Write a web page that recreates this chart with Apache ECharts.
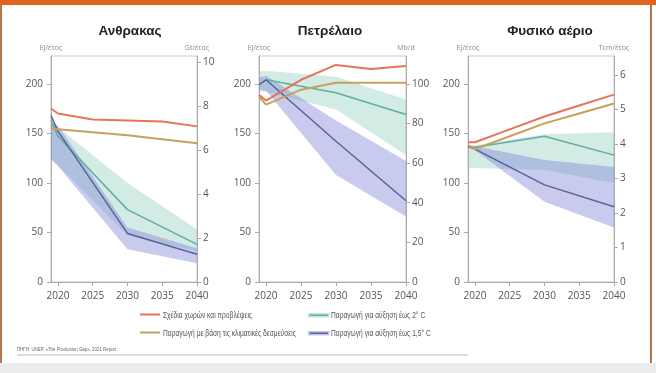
<!DOCTYPE html>
<html>
<head>
<meta charset="utf-8">
<script src="https://cdn.jsdelivr.net/npm/echarts@6/dist/echarts.min.js"></script>
<style>
html,body{margin:0;padding:0;background:#fff;}
#chart{width:656px;height:373px;}
</style>
</head>
<body>
<div id="chart"></div>
<script>
// ---------- DATA ----------
const panelTitles = ['Ανθρακας', 'Πετρέλαιο', 'Φυσικό αέριο'];
const leftUnits = ['EJ/έτος', 'EJ/έτος', 'EJ/έτος'];
const rightUnits = ['Gt/έτος', 'Mb/d', 'Tcm/έτος'];
const xTicks = [2020, 2025, 2030, 2035, 2040];
const leftTicks = [0, 50, 100, 150, 200];
const rightTicksCoal = [0, 2, 4, 6, 8, 10];
const rightTicksOil = [0, 20, 40, 60, 80, 100];
const rightTicksGas = [0, 1, 2, 3, 4, 5, 6];
const rightMax = [10.3, 114, 6.55];
const leftMax = 228;

const years = [2019, 2020, 2025, 2030, 2035, 2040];
const scenYears = [2019, 2020, 2030, 2040];

const seriesNames = [
  'Σχέδια χωρών και προβλέψεις',
  'Παραγωγή με βάση τις κλιματικές δεσμεύσεις',
  'Παραγωγή για αύξηση έως 2° C',
  'Παραγωγή για αύξηση έως 1,5° C'
];

// Coal (EJ/yr)
const coalPlans   = [175, 170, 164, 163, 162, 157];
const coalPledges = [155, 154, 151, 148, 144, 140];
const coal2C      = [163, 147, 73, 38];
const coal15C     = [168, 152, 49, 28];
const coal2CLow   = [122, 118, 47, 31];
const coal2CHigh  = [163, 156, 100, 53];
const coal15CLow  = [125, 117, 33, 19];
const coal15CHigh = [160, 158, 55, 34];

// Oil (EJ/yr)
const oilPlans   = [189, 183, 204, 219, 215, 218];
const oilPledges = [187, 179, 194, 201, 201, 201];
const oil2C      = [199, 204, 191, 169];
const oil15C     = [199, 204, 142, 82];
const oil2CLow   = [192, 192, 174, 128];
const oil2CHigh  = [212, 213, 207, 184];
const oil15CLow  = [194, 193, 108, 66];
const oil15CHigh = [206, 208, 163, 122];

// Gas (EJ/yr)
const gasPlans   = [141, 141, 154, 167, 178, 189];
const gasPledges = [138, 134, 147, 160, 170, 180];
const gas2C      = [136, 136, 147, 128];
const gas15C     = [137, 134, 98, 76];
const gas2CLow   = [115, 115, 113, 100];
const gas2CHigh  = [137, 138, 149, 151];
const gas15CLow  = [136, 133, 81, 55];
const gas15CHigh = [138, 137, 123, 116];

const sourceText = 'ΠΗΓΗ: UNEP, «The Production Gap», 2021 Report';

// ---------- STYLE ----------
const C = {
  red: '#e8735d', gold: '#c7a15a', teal: '#5fae9e', purple: '#5b6199',
  tealBand: 'rgba(120,195,175,0.33)', purpleBand: 'rgba(125,130,215,0.42)',
  tealLeg: '#c4e3dc', purpleLeg: '#c3c6ee',
  axis: '#aaa', label: '#555'
};
const FONT = 'Open Sans';
const grids = [
  {left: 51, top: 56, width: 146, height: 226},
  {left: 259, top: 56, width: 147, height: 226},
  {left: 468, top: 56, width: 146, height: 226}
];
const titleX = [130, 330, 550];
const rightTicks = [rightTicksCoal, rightTicksOil, rightTicksGas];

const panels = [
  {plans: coalPlans, pledges: coalPledges, s2: coal2C, s15: coal15C, l2: coal2CLow, h2: coal2CHigh, l15: coal15CLow, h15: coal15CHigh},
  {plans: oilPlans, pledges: oilPledges, s2: oil2C, s15: oil15C, l2: oil2CLow, h2: oil2CHigh, l15: oil15CLow, h15: oil15CHigh},
  {plans: gasPlans, pledges: gasPledges, s2: gas2C, s15: gas15C, l2: gas2CLow, h2: gas2CHigh, l15: gas15CLow, h15: gas15CHigh}
];

const xAxes = [], yAxes = [], series = [], titles = [];

function pairs(xs, vs) { return xs.map((x, i) => [x, vs[i]]); }

function bandSeries(k, lo, hi, color) {
  return {
    type: 'custom', xAxisIndex: k, yAxisIndex: 2 * k, silent: true, z: 1,
    data: scenYears.map((y, i) => [y, lo[i], hi[i]]),
    encode: {x: 0, y: [1, 2]},
    renderItem: function (params, api) {
      if (params.dataIndex !== 0) return {type: 'group', children: []};
      const pts = [];
      scenYears.forEach((y, i) => pts.push(api.coord([y, hi[i]])));
      for (let i = scenYears.length - 1; i >= 0; i--) pts.push(api.coord([scenYears[i], lo[i]]));
      return {type: 'polygon', shape: {points: pts}, style: {fill: color}};
    }
  };
}

function lineSeries(k, name, xs, vs, color, width, z) {
  return {
    type: 'line', name: name, xAxisIndex: k, yAxisIndex: 2 * k,
    data: pairs(xs, vs), symbol: 'none', z: z,
    lineStyle: {color: color, width: width},
    itemStyle: {color: color},
    emphasis: {disabled: true}
  };
}

const plainNum = v => String(v);

panels.forEach((p, k) => {
  xAxes.push({
    type: 'value', gridIndex: k, min: 2019, max: 2040,
    axisLine: {show: true, lineStyle: {color: C.axis}},
    axisTick: {show: true, length: 4, lineStyle: {color: C.axis}, customValues: xTicks},
    axisLabel: {customValues: xTicks, formatter: plainNum, fontSize: 10, color: C.label, fontFamily: FONT, margin: 9},
    splitLine: {show: false}
  });
  yAxes.push({
    type: 'value', gridIndex: k, position: 'left', min: 0, max: leftMax,
    name: leftUnits[k], nameLocation: 'end', nameGap: 5,
    nameTextStyle: {fontSize: 7, color: '#888', fontFamily: FONT},
    axisLine: {show: true, lineStyle: {color: C.axis}},
    axisTick: {show: true, length: 4, lineStyle: {color: C.axis}, customValues: leftTicks},
    axisLabel: {customValues: leftTicks, formatter: plainNum, fontSize: 10, color: C.label, fontFamily: FONT, margin: 8},
    splitLine: {show: false}
  });
  yAxes.push({
    type: 'value', gridIndex: k, position: 'right', min: 0, max: rightMax[k],
    name: rightUnits[k], nameLocation: 'end', nameGap: 5,
    nameTextStyle: {fontSize: 7, color: '#888', fontFamily: FONT},
    axisLine: {show: true, lineStyle: {color: C.axis}},
    axisTick: {show: true, length: 4, lineStyle: {color: C.axis}, customValues: rightTicks[k]},
    axisLabel: {customValues: rightTicks[k], formatter: plainNum, fontSize: 10, color: C.label, fontFamily: FONT, margin: 6},
    splitLine: {show: false}
  });
  titles.push({
    text: panelTitles[k], left: titleX[k], top: 24, textAlign: 'center', padding: 0,
    textStyle: {fontSize: 13.5, fontWeight: 'bold', color: '#222', fontFamily: 'Liberation Sans'}
  });
  series.push(bandSeries(k, p.l2, p.h2, C.tealBand));
  series.push(bandSeries(k, p.l15, p.h15, C.purpleBand));
  series.push(lineSeries(k, seriesNames[2], scenYears, p.s2, C.teal, 1.5, 3));
  series.push(lineSeries(k, seriesNames[3], scenYears, p.s15, C.purple, 1.5, 4));
  series.push(lineSeries(k, seriesNames[1], years, p.pledges, C.gold, 2, 5));
  series.push(lineSeries(k, seriesNames[0], years, p.plans, C.red, 2, 6));
});

// legend: icons from the ECharts legend, labels drawn as condensed text next to them
const legendPos = [[140, 315], [140, 333], [308, 315], [308, 333]];
function legendItem(i, band, bandColor) {
  const h = band ? 3 : 2;
  const l = {
    left: legendPos[i][0], top: legendPos[i][1] - h / 2 - 0.5, padding: 0, selectedMode: false,
    data: [{name: seriesNames[i]}], icon: 'rect', itemWidth: 20,
    itemHeight: h,
    formatter: () => '',
    textStyle: {fontSize: 1, lineHeight: 1}
  };
  if (band) l.itemStyle = {borderColor: bandColor, borderWidth: 1.6};
  return l;
}
const legendTexts = seriesNames.map((n, i) => ({
  type: 'text', x: legendPos[i][0] + 23, y: legendPos[i][1], scaleX: 0.70, silent: true,
  style: {text: n, fontSize: 9.5, fill: '#555', fontFamily: 'Liberation Sans', verticalAlign: 'middle', align: 'left'}
}));

const option = {
  animation: false,
  backgroundColor: '#ffffff',
  title: titles,
  grid: grids.map(g => Object.assign({show: true, borderColor: '#c8c8c8', borderWidth: 1, backgroundColor: 'transparent'}, g)),
  xAxis: xAxes,
  yAxis: yAxes,
  series: series,
  legend: [
    legendItem(0, false),
    legendItem(1, false),
    legendItem(2, true, C.tealLeg),
    legendItem(3, true, C.purpleLeg)
  ],
  graphic: [
    {type: 'rect', shape: {x: 0, y: 0, width: 656, height: 5}, style: {fill: '#df6420'}, silent: true},
    {type: 'rect', shape: {x: 0, y: 5, width: 2, height: 358}, style: {fill: '#b87550'}, silent: true},
    {type: 'rect', shape: {x: 650, y: 5, width: 2, height: 358}, style: {fill: '#b87550'}, silent: true},
    {type: 'rect', shape: {x: 0, y: 363, width: 656, height: 10}, style: {fill: '#ececec'}, silent: true},
    {type: 'rect', shape: {x: 17, y: 354, width: 451, height: 2}, style: {fill: '#dcdcdc'}, silent: true},
    {type: 'text', x: 17, y: 349, scaleX: 0.71, silent: true, style: {text: sourceText, fontSize: 6.2, fill: '#666', fontFamily: 'Liberation Sans', verticalAlign: 'middle'}}
  ].concat(legendTexts)
};

const chart = echarts.init(document.getElementById('chart'), null, {renderer: 'canvas'});
chart.setOption(option);
</script>
</body>
</html>
